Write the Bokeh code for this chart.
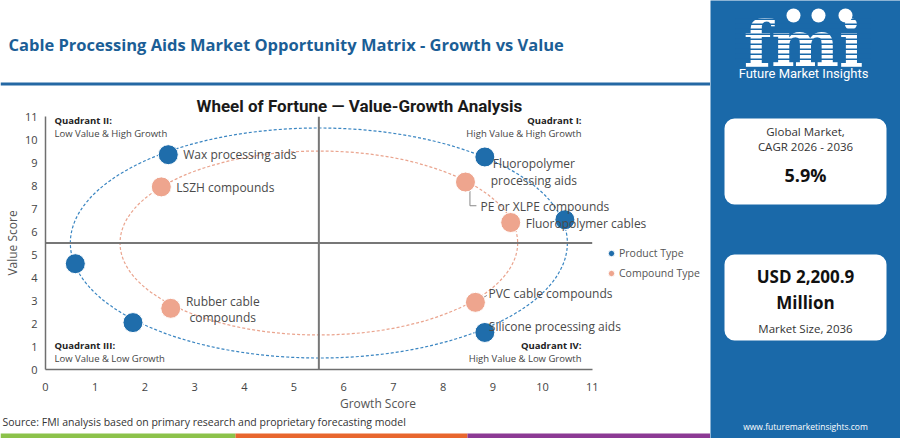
from bokeh.core.properties import value
from bokeh.embed import file_html
from bokeh.layouts import column, row
from bokeh.models import (BoxAnnotation, ColumnDataSource, FixedTicker, Label,
                          Legend, LegendItem, Range1d, Span)
from bokeh.plotting import figure
from bokeh.resources import INLINE

# ---- chart data ----
product_names = ["Wax processing aids", "Fluoropolymer\nprocessing aids", "", "", "",
                 "Silicone processing aids"]
product_growth = [2.47, 8.84, 10.45, 0.60, 1.76, 8.84]
product_value = [9.34, 9.24, 6.51, 4.60, 2.04, 1.61]

compound_names = ["LSZH compounds", "PE or XLPE compounds", "Fluoropolymer cables",
                  "Rubber cable\ncompounds", "PVC cable compounds"]
compound_growth = [2.33, 8.45, 9.36, 2.52, 8.65]
compound_value = [7.94, 8.15, 6.39, 2.66, 2.92]

# rings of the wheel: centre and radius in score units
ring_centre = 5.5
ring_radius = [5.0, 4.0]

x_ticks = list(range(0, 12))
y_ticks = list(range(0, 12))

cagr_text = "5.9%"
size_text = "USD 2,200.9\nMillion"

BLUE = "#1f6dab"
ORANGE = "#eea58e"
PANEL = "#1a69a9"
FONT = "Open Sans"
GREY = "#444444"

# label offsets in pixels: dx, dy (down is positive), alignment
label_pos = {
    "Wax processing aids": (15, 0, "left"),
    "Fluoropolymer\nprocessing aids": (49, 15, "center"),
    "Silicone processing aids": (4, -6, "left"),
    "LSZH compounds": (15, 1, "left"),
    "PE or XLPE compounds": (15, 24, "left"),
    "Fluoropolymer cables": (15, 1, "left"),
    "Rubber cable\ncompounds": (52, 1, "center"),
    "PVC cable compounds": (13, -9, "left"),
}


def blank(w, h, bg="white"):
    f = figure(width=w, height=h, x_range=Range1d(0, w), y_range=Range1d(0, h),
               toolbar_location=None, output_backend="svg", min_border=0,
               x_axis_type=None, y_axis_type=None, outline_line_color=None,
               background_fill_color=bg, border_fill_color=bg)
    return f


def box(f, left, bottom, right, top, colour, radius=0):
    f.add_layout(BoxAnnotation(left=left, right=right, bottom=bottom, top=top,
                               fill_color=colour, fill_alpha=1, line_color=None,
                               border_radius=radius))


def text(f, x, y, t, size, colour, bold=False, align="left", font=FONT, lh=1.0):
    f.add_layout(Label(x=x, y=y, text=t, text_align=align, text_baseline="middle",
                       text_font=font, text_font_size=size,
                       text_font_style="bold" if bold else "normal",
                       text_color=colour, text_line_height=lh))


# ---- header (page y 0..92) ----
header = blank(710, 92)
text(header, 8, 48, "Cable Processing Aids Market Opportunity Matrix - Growth vs Value", "16.5px",
     "#1b5e96", bold=True)
box(header, 0, 7, 710, 10, "#2468a4")

# ---- chart (page y 92..414), frame x 45..710, y 116..370 ----
p = figure(width=710, height=322, x_range=Range1d(0, 13.38), y_range=Range1d(0, 11),
           toolbar_location=None, output_backend="svg",
           min_border_left=45, min_border_right=0, min_border_top=24, min_border_bottom=44,
           outline_line_color=None, background_fill_color="white", border_fill_color="white",
           title="Wheel of Fortune \u2014 Value-Growth Analysis")
p.title.align = "left"
p.title.offset = 151
p.title.text_font = "Roboto"
p.title.text_font_size = "17px"
p.title.text_color = "#1a1a1a"
p.title.standoff = 1
p.xgrid.visible = False
p.ygrid.visible = False

for ax in (p.xaxis[0], p.yaxis[0]):
    ax.axis_line_color = "#6f6f6f"
    ax.axis_line_width = 1.5
    ax.major_tick_line_color = None
    ax.minor_tick_line_color = None
    ax.major_tick_out = 0
    ax.major_tick_in = 0
    ax.major_label_text_font = FONT
    ax.major_label_text_font_size = "11px"
    ax.major_label_text_color = GREY
    ax.axis_label_text_font = FONT
    ax.axis_label_text_font_size = "12px"
    ax.axis_label_text_font_style = "normal"
    ax.axis_label_text_color = "#555555"
p.xaxis.ticker = FixedTicker(ticks=x_ticks)
p.yaxis.ticker = FixedTicker(ticks=y_ticks)
p.xaxis.bounds = (x_ticks[0], x_ticks[-1])
p.xaxis.axis_label = "Growth Score"
p.yaxis.axis_label = "Value Score"
p.xaxis.major_label_standoff = 13
p.xaxis.axis_label_standoff = 1
p.yaxis.major_label_standoff = 8
p.yaxis.axis_label_standoff = 1

# wheel rings
p.ellipse(x=[ring_centre] * 2, y=[ring_centre] * 2,
          width=[2 * r for r in ring_radius], height=[2 * r for r in ring_radius],
          fill_color=None, line_color=["#3b86c2", "#eaa48e"], line_width=1.2, line_dash="3 2")

# quadrant dividers
p.segment(x0=[x_ticks[0]], y0=[ring_centre], x1=[x_ticks[-1]], y1=[ring_centre],
          line_color="#777777", line_width=2)
p.add_layout(Span(location=ring_centre, dimension="height", line_color="#777777", line_width=2))

# leader lines for two crowded labels (offsets in score units)
i_pe = compound_names.index("PE or XLPE compounds")
i_pvc = compound_names.index("PVC cable compounds")
xs_pe, ys_pe = compound_growth[i_pe], compound_value[i_pe]
xs_pvc, ys_pvc = compound_growth[i_pvc], compound_value[i_pvc]
p.multi_line(xs=[[xs_pe + 0.09, xs_pe + 0.09, xs_pe + 0.22], [xs_pvc + 0.08, xs_pvc + 0.23]],
             ys=[[ys_pe - 0.3, ys_pe - 1.03, ys_pe - 1.03], [ys_pvc + 0.1, ys_pvc + 0.3]],
             line_color="#888888", line_width=1)

prod_src = ColumnDataSource(dict(
    x=product_growth, y=product_value, name=product_names,
    dx=[label_pos.get(n, (0, 0, "left"))[0] for n in product_names],
    dy=[label_pos.get(n, (0, 0, "left"))[1] for n in product_names],
    align=[label_pos.get(n, (0, 0, "left"))[2] for n in product_names]))
comp_src = ColumnDataSource(dict(
    x=compound_growth, y=compound_value, name=compound_names,
    dx=[label_pos[n][0] for n in compound_names],
    dy=[label_pos[n][1] for n in compound_names],
    align=[label_pos[n][2] for n in compound_names]))

r_prod = p.scatter("x", "y", source=prod_src, size=20, fill_color=BLUE, line_color="white",
                   line_width=1)
r_comp = p.scatter("x", "y", source=comp_src, size=20, fill_color=ORANGE, line_color="white",
                   line_width=1)

for src in (prod_src, comp_src):
    p.text("x", "y", text="name", source=src, x_offset="dx", y_offset="dy", text_align="align",
           text_baseline="middle", text_font=value(FONT), text_font_size="12px",
           text_color="#4a4a4a", text_line_height=0.95)

# quadrant captions, placed in screen pixels from the frame's lower-left corner
quad = [
    (9, 249, "Quadrant II:", "left", True),
    (9, 236, "Low Value & High Growth", "left", False),
    (536, 249, "Quadrant I:", "right", True),
    (536, 236, "High Value & High Growth", "right", False),
    (9, 24, "Quadrant III:", "left", True),
    (9, 11, "Low Value & Low Growth", "left", False),
    (536, 24, "Quadrant IV:", "right", True),
    (536, 11, "High Value & Low Growth", "right", False),
]
for qx, qy, qt, qa, qb in quad:
    p.add_layout(Label(x=qx, y=qy, x_units="screen", y_units="screen", text=qt, text_align=qa,
                       text_baseline="middle", text_font=FONT, text_font_size="9.5px",
                       text_font_style="bold" if qb else "normal",
                       text_color="#222222" if qb else "#444444"))

legend = Legend(items=[LegendItem(label="Product Type", renderers=[r_prod]),
                       LegendItem(label="Compound Type", renderers=[r_comp])],
                location=(558, 86), glyph_width=16, glyph_height=20,
                label_standoff=0, spacing=0, padding=0, margin=0, border_line_color=None,
                background_fill_alpha=0, label_text_font=FONT, label_text_font_size="10.5px",
                label_text_color="#555555")
p.add_layout(legend)

# ---- footer (page y 414..438) ----
footer = blank(710, 24)
text(footer, 2, 17, "Source: FMI analysis based on primary research and proprietary forecasting model",
     "10.5px", "#333333")
box(footer, 0, 0, 235, 5, "#8cc24a")
box(footer, 235, 0, 467, 5, "#e8662e")
box(footer, 467, 0, 710, 5, "#8c3a94")

# ---- side panel (page x 710..900) ----
panel = blank(190, 438, PANEL)
text(panel, 93, 395, "fmi", "64px", "white", bold=True, align="center", font="DejaVu Serif")
for k in range(9):
    box(panel, 25, 420 - 5 * k - 1.5, 160, 420 - 5 * k, PANEL)
for cx in (83, 108, 135):
    box(panel, cx - 7, 416, cx + 7, 430, "white", radius=7)
text(panel, 93, 365, "Future Market Insights", "13px", "white", align="center", font="Roboto")

box(panel, 14, 234, 176, 320, "white", radius=10)
box(panel, 14, 98, 176, 184, "white", radius=10)
text(panel, 95, 299.5, "Global Market,\nCAGR 2026 - 2036", "11.5px", "#333333", align="center",
     lh=0.95)
text(panel, 95, 264, cagr_text, "18px", "#111111", bold=True, align="center")
text(panel, 95, 149, size_text, "17px", "#111111", bold=True, align="center", lh=1.1)
text(panel, 95, 110.5, "Market Size, 2036", "11.5px", "#333333", align="center")
text(panel, 95, 12, "www.futuremarketinsights.com", "8.5px", "white", align="center")

layout = row(column(row(header), row(p), row(footer)), column(panel))

open("out.html", "w").write(file_html(layout, INLINE))
